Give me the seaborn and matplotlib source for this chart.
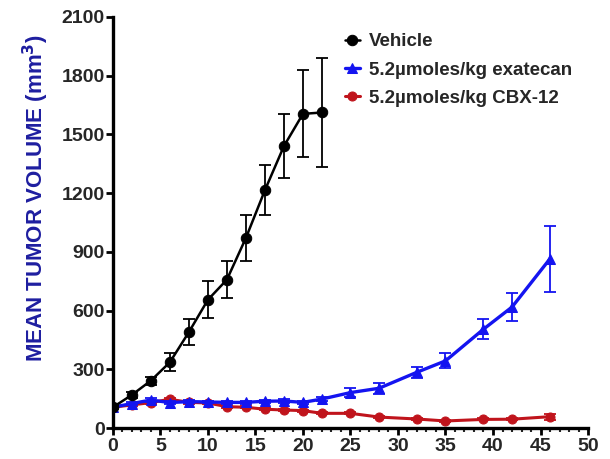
import numpy as np
import pandas as pd
import matplotlib
matplotlib.use("Agg")
import matplotlib.pyplot as plt
from matplotlib.ticker import MultipleLocator
import seaborn as sns

# ---- data ----
days_vehicle = [0, 2, 4, 6, 8, 10, 12, 14, 16, 18, 20, 22]
vehicle = [106, 169, 242, 336, 490, 655, 758, 971, 1215, 1440, 1605, 1612]
vehicle_err = [10, 15, 20, 47, 66, 94, 94, 117, 128, 165, 222, 279]

days_treat = [0, 2, 4, 6, 8, 10, 12, 14, 16, 18, 20, 22, 25, 28, 32, 35, 39, 42, 46]
exatecan = [106, 125, 143, 130, 135, 133, 131, 131, 137, 138, 131, 148,
            181, 203, 285, 343, 505, 618, 865]
exatecan_err = [5, 6, 8, 8, 7, 7, 7, 7, 8, 8, 8, 10,
                23, 28, 27, 38, 52, 73, 168]
cbx12 = [106, 118, 130, 147, 131, 128, 109, 106, 96, 92, 89, 75,
         75, 56, 46, 36, 44, 45, 58]
cbx12_err = [5, 5, 6, 6, 6, 6, 6, 6, 5, 5, 5, 5,
             5, 5, 5, 5, 5, 6, 15]

labels = ["Vehicle", "5.2\u00b5moles/kg exatecan", "5.2\u00b5moles/kg CBX-12"]
x_ticks = [0, 5, 10, 15, 20, 25, 30, 35, 40, 45, 50]
y_ticks = [0, 300, 600, 900, 1200, 1500, 1800, 2100]
y_label = "MEAN TUMOR VOLUME (mm$^\\mathbf{3}$)"

# ---- style ----
sns.set_style("ticks")
plt.rcParams["font.family"] = ["Liberation Sans", "DejaVu Sans"]
plt.rcParams["font.weight"] = "bold"
plt.rcParams["mathtext.default"] = "bf"

fig = plt.figure(figsize=(6.10, 4.59), dpi=100)
ax = fig.add_axes([0.185, 0.0675, 0.779, 0.8955])

colors = {"Vehicle": "#000000",
          labels[1]: "#1414f0",
          labels[2]: "#c0141c"}

df_v = pd.DataFrame({"day": days_vehicle, "vol": vehicle, "err": vehicle_err})
df_e = pd.DataFrame({"day": days_treat, "vol": exatecan, "err": exatecan_err})
df_c = pd.DataFrame({"day": days_treat, "vol": cbx12, "err": cbx12_err})

series = [
    (df_c, labels[2], "o", 6.5, 2.2, 2),
    (df_e, labels[1], "^", 7.0, 2.4, 3),
    (df_v, labels[0], "o", 7.5, 1.8, 4),
]
for df, lab, mk, ms, lw, z in series:
    c = colors[lab]
    ax.errorbar(df["day"], df["vol"], yerr=df["err"], fmt="none",
                ecolor=c, elinewidth=1.3, capsize=4, capthick=1.3, zorder=z)
    sns.lineplot(data=df, x="day", y="vol", ax=ax, color=c, marker=mk,
                 markersize=ms, markeredgecolor=c, linewidth=lw,
                 label=lab, zorder=z, errorbar=None)

h, l = ax.get_legend_handles_labels()
order = [l.index(lab) for lab in labels]
leg = ax.legend([h[i] for i in order], [l[i] for i in order],
                loc="upper left", bbox_to_anchor=(0.453, 1.002),
                frameon=False, handlelength=0.8, handletextpad=0.5,
                labelspacing=0.6, prop={"weight": "bold", "size": 13.5})

ax.set_xlim(0, 50)
ax.set_ylim(0, 2100)
ax.set_xticks(x_ticks)
ax.set_yticks(y_ticks)
ax.xaxis.set_minor_locator(MultipleLocator(1))
ax.set_xlabel("")
ax.set_ylabel(y_label, color="#1e1ea0", fontsize=16, fontweight="bold")
ax.yaxis.set_label_coords(-0.13, 0.56)

for s in ["top", "right"]:
    ax.spines[s].set_visible(False)
for s in ["left", "bottom"]:
    ax.spines[s].set_linewidth(2.4)
    ax.spines[s].set_color("black")

ax.tick_params(axis="both", which="major", direction="out", length=5,
               width=2.0, color="black")
ax.tick_params(axis="x", which="minor", direction="out", length=3, width=1.5)
ax.tick_params(axis="y", labelsize=14, pad=1)
ax.tick_params(axis="x", labelsize=14, pad=2)
for t in ax.get_xticklabels() + ax.get_yticklabels():
    t.set_fontweight("bold")

fig.savefig("out.png", dpi=100)
